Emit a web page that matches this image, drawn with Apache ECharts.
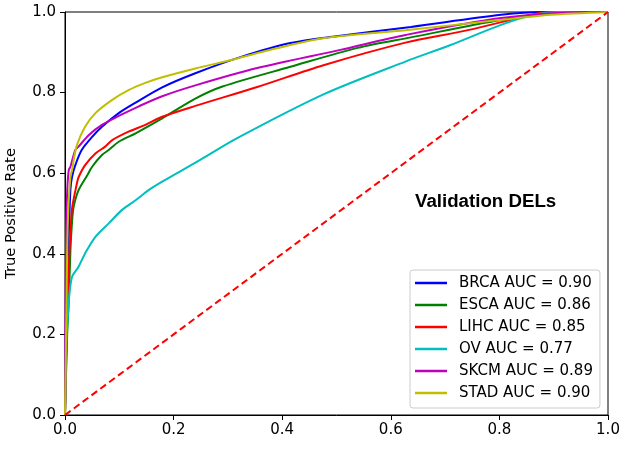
<!DOCTYPE html>
<html>
<head>
<meta charset="utf-8">
<script src="https://cdn.jsdelivr.net/npm/echarts@6/dist/echarts.min.js"></script>
<style>html,body{margin:0;padding:0;background:#fff}#c{width:623px;height:449px}</style>
</head>
<body>
<div id="c"></div>
<script>
const seriesNames = ['BRCA AUC = 0.90','ESCA AUC = 0.86','LIHC AUC = 0.85','OV AUC = 0.77','SKCM AUC = 0.89','STAD AUC = 0.90'];
const seriesColors = ['#0000ff','#008000','#ff0000','#00bfbf','#bf00bf','#bfbf00'];

const brcaFpr = [0, 0.003, 0.007, 0.01, 0.013, 0.019, 0.031, 0.05, 0.068, 0.099, 0.13, 0.179, 0.24, 0.323, 0.415, 0.5, 0.637, 0.803, 0.88, 1];
const brcaTpr = [0, 0.30, 0.451, 0.56, 0.591, 0.62, 0.658, 0.69, 0.715, 0.749, 0.775, 0.813, 0.848, 0.888, 0.923, 0.94, 0.963, 0.993, 1, 1];

const escaFpr = [0, 0.004, 0.007, 0.01, 0.013, 0.016, 0.025, 0.041, 0.05, 0.068, 0.081, 0.099, 0.13, 0.179, 0.24, 0.29, 0.415, 0.539, 0.637, 0.803, 0.93, 1];
const escaTpr = [0, 0.20, 0.285, 0.409, 0.48, 0.517, 0.558, 0.595, 0.616, 0.645, 0.658, 0.678, 0.699, 0.736, 0.785, 0.815, 0.864, 0.911, 0.937, 0.98, 1, 1];

const lihcFpr = [0, 0.004, 0.007, 0.01, 0.013, 0.022, 0.025, 0.037, 0.056, 0.074, 0.087, 0.117, 0.148, 0.179, 0.24, 0.354, 0.476, 0.627, 0.742, 0.876, 0.9, 1];
const lihcTpr = [0, 0.25, 0.368, 0.451, 0.513, 0.575, 0.59, 0.62, 0.649, 0.666, 0.682, 0.703, 0.72, 0.74, 0.767, 0.814, 0.868, 0.924, 0.955, 0.998, 1, 1];

const ovFpr = [0, 0.002, 0.004, 0.006, 0.007, 0.013, 0.025, 0.037, 0.056, 0.081, 0.105, 0.13, 0.154, 0.179, 0.249, 0.317, 0.475, 0.627, 0.71, 0.803, 0.863, 0.91, 1];
const ovTpr = [0, 0.15, 0.22, 0.26, 0.285, 0.343, 0.368, 0.401, 0.442, 0.476, 0.509, 0.533, 0.558, 0.579, 0.633, 0.687, 0.795, 0.877, 0.918, 0.968, 0.993, 1, 1];

const skcmFpr = [0, 0.002, 0.004, 0.007, 0.01, 0.019, 0.025, 0.044, 0.068, 0.099, 0.136, 0.179, 0.24, 0.354, 0.507, 0.627, 0.803, 0.96, 1];
const skcmTpr = [0, 0.45, 0.555, 0.608, 0.616, 0.658, 0.666, 0.695, 0.72, 0.742, 0.766, 0.791, 0.818, 0.861, 0.906, 0.943, 0.985, 1, 1];

const stadFpr = [0, 0.002, 0.003, 0.004, 0.006, 0.01, 0.013, 0.016, 0.022, 0.037, 0.056, 0.087, 0.117, 0.148, 0.179, 0.24, 0.31, 0.384, 0.476, 0.627, 0.8, 0.895, 1];
const stadTpr = [0, 0.20, 0.285, 0.409, 0.509, 0.591, 0.608, 0.633, 0.67, 0.715, 0.749, 0.782, 0.806, 0.824, 0.838, 0.86, 0.882, 0.908, 0.935, 0.955, 0.98, 0.993, 1];

const chanceFpr = [0, 1];
const chanceTpr = [0, 1];

const xTicks = [0, 0.2, 0.4, 0.6, 0.8, 1.0];
const yTicks = [0, 0.2, 0.4, 0.6, 0.8, 1.0];

const fprs = [brcaFpr, escaFpr, lihcFpr, ovFpr, skcmFpr, stadFpr];
const tprs = [brcaTpr, escaTpr, lihcTpr, ovTpr, skcmTpr, stadTpr];

function zip(a, b) { return a.map((v, i) => [v, b[i]]); }

const series = seriesNames.map((n, i) => ({
  name: n, type: 'line', data: zip(fprs[i], tprs[i]),
  showSymbol: false, symbol: 'none', smooth: 0.3, animation: false,
  lineStyle: { color: seriesColors[i], width: 2 },
  itemStyle: { color: seriesColors[i] }
}));
series.push({
  name: 'chance', type: 'line', data: zip(chanceFpr, chanceTpr),
  showSymbol: false, symbol: 'none', animation: false, z: 3,
  lineStyle: { color: '#ff0000', width: 2, type: [7, 4] }
});

const axisCommon = {
  type: 'value', min: 0, max: 1, interval: 0.2,
  axisLine: { show: true, lineStyle: { color: '#000', width: 1 } },
  axisTick: { show: true, inside: false, length: 5, lineStyle: { color: '#000' } },
  splitLine: { show: false },
  axisLabel: { color: '#000', fontSize: 15, fontFamily: 'DejaVu Sans', formatter: v => v.toFixed(1) }
};

const chart = echarts.init(document.getElementById('c'));
chart.setOption({
  backgroundColor: '#fff',
  animation: false,
  grid: { left: 65, right: 15, top: 12, bottom: 34, outerBoundsMode: 'none', containLabel: false, show: true, borderColor: '#000', borderWidth: 1, backgroundColor: 'transparent' },
  xAxis: Object.assign({}, axisCommon, { axisLabel: Object.assign({}, axisCommon.axisLabel, { margin: 8 }) }),
  yAxis: Object.assign({}, axisCommon, {
    name: 'True Positive Rate', nameLocation: 'middle', nameGap: 46,
    nameTextStyle: { color: '#000', fontSize: 14.7, fontFamily: 'DejaVu Sans' },
    axisLabel: Object.assign({}, axisCommon.axisLabel, { margin: 9 })
  }),
  legend: {
    data: seriesNames, orient: 'vertical', left: 410, top: 270,
    icon: 'rect', itemWidth: 32, itemHeight: 2.5, itemGap: 0,
    padding: [2, 7, 4, 5],
    backgroundColor: '#fff', borderColor: '#cccccc', borderWidth: 1, borderRadius: 3,
    textStyle: { fontSize: 15, fontFamily: 'DejaVu Sans', color: '#000', lineHeight: 22, padding: [0, 0, 0, 7] }
  },
  title: {
    text: 'Validation DELs', left: 410, top: 187,
    textStyle: { fontSize: 18.7, fontWeight: 'bold', fontFamily: 'Liberation Sans', color: '#000' }
  },
  series: series
});
</script>
</body>
</html>
